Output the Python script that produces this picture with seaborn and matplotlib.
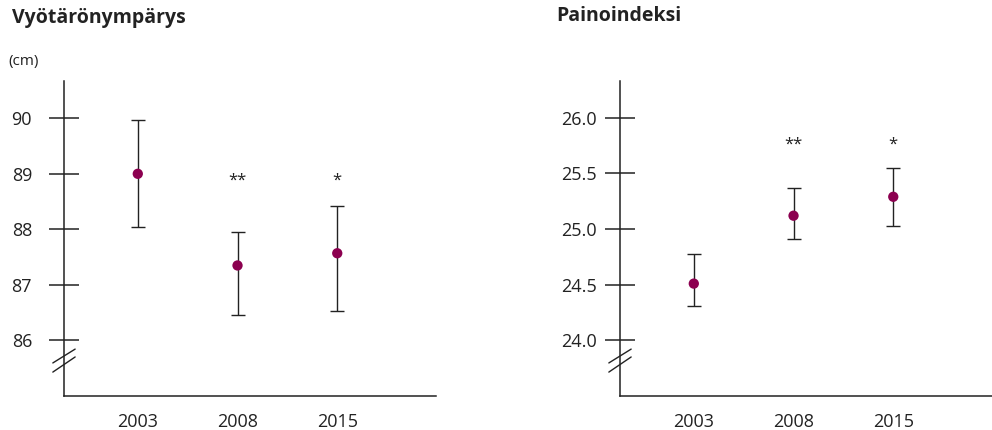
import pandas as pd
import matplotlib
matplotlib.use('Agg')
import matplotlib.pyplot as plt
import seaborn as sns

# Data
years = ['2003', '2008', '2015']

waist_mean = [89.0, 87.35, 87.57]
waist_low = [88.05, 86.45, 86.53]
waist_high = [89.97, 87.95, 88.42]
waist_stars = ['', '**', '*']

bmi_mean = [24.51, 25.12, 25.29]
bmi_low = [24.31, 24.91, 25.03]
bmi_high = [24.78, 25.37, 25.55]
bmi_stars = ['', '**', '*']

waist_ticks = [86, 87, 88, 89, 90]
waist_ticklabels = ['86', '87', '88', '89', '90']
bmi_ticks = [24.0, 24.5, 25.0, 25.5, 26.0]
bmi_ticklabels = ['24.0', '24.5', '25.0', '25.5', '26.0']

sns.set_style('white')
plt.rcParams['font.family'] = ['Open Sans', 'DejaVu Sans']

point_color = '#8c0050'
line_color = '#222222'

fig = plt.figure(figsize=(9.92, 4.30), dpi=100)
ax1 = fig.add_axes([0.0645, 0.079, 0.375, 0.7326])
ax2 = fig.add_axes([0.625, 0.079, 0.375, 0.7326])


def draw_panel(ax, mean, low, high, stars, ylim, ticks, ticklabels, star_y, label_pad):
    df = pd.DataFrame({'year': years, 'mean': mean, 'low': low, 'high': high})
    df['x'] = range(len(df))
    # virhepalkit
    ax.errorbar(df['x'], df['mean'],
                yerr=[df['mean'] - df['low'], df['high'] - df['mean']],
                fmt='none', ecolor=line_color, elinewidth=1.0,
                capsize=5, capthick=1.0, zorder=2)
    sns.scatterplot(data=df, x='x', y='mean', ax=ax, color=point_color,
                    s=55, edgecolor='none', zorder=3, legend=False)
    for i, s in enumerate(stars):
        if s:
            ax.text(df['x'][i], star_y, s, ha='center', va='center',
                    fontsize=12, color=line_color)

    ax.set_xlim(-0.74, 2.99)
    ax.set_ylim(*ylim)
    ax.set_xticks(df['x'])
    ax.set_xticklabels(years)
    ax.set_yticks(ticks)
    ax.set_yticklabels(ticklabels)
    ax.set_xlabel('')
    ax.set_ylabel('')

    sns.despine(ax=ax)
    for side in ['left', 'bottom']:
        ax.spines[side].set_color(line_color)
        ax.spines[side].set_linewidth(1.1)
    ax.tick_params(axis='y', left=True, direction='inout', length=22, width=1.1,
                   color=line_color, labelsize=13, pad=label_pad,
                   labelcolor='#222222')
    ax.tick_params(axis='x', bottom=False, length=0, labelsize=13, pad=12,
                   labelcolor='#222222')

    # katkomerkit
    for y0, y1 in [(0.076, 0.124), (0.105, 0.149)]:
        ax.plot([-0.03, 0.03], [y0, y1], transform=ax.transAxes,
                color=line_color, lw=1.0, clip_on=False)


draw_panel(ax1, waist_mean, waist_low, waist_high, waist_stars,
           (85.0, 90.67), waist_ticks, waist_ticklabels, 88.88, 12)
draw_panel(ax2, bmi_mean, bmi_low, bmi_high, bmi_stars,
           (23.5, 26.33), bmi_ticks, bmi_ticklabels, 25.76, 6)

fig.text(12 / 992, 1 - 18 / 430, 'Vyötärönympärys', fontsize=14,
         fontweight='bold', va='center', ha='left', color='#222222')
fig.text(556 / 992, 1 - 16 / 430, 'Painoindeksi', fontsize=14,
         fontweight='bold', va='center', ha='left', color='#222222')
fig.text(8 / 992, 1 - 62 / 430, '(cm)', fontsize=11, va='center',
         ha='left', color='#222222')

fig.savefig('out.png', dpi=100)
